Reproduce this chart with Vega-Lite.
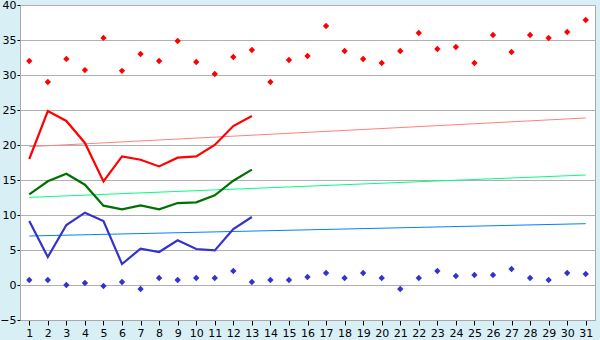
{
  "$schema": "https://vega.github.io/schema/vega-lite/v6.json",
  "width": 575,
  "height": 315,
  "autosize": {"type": "none"},
  "padding": {"left": 20, "top": 5, "right": 5, "bottom": 20},
  "background": "#d9eff6",
  "config": {
    "view": {"fill": "white", "stroke": "#a8a8a8", "strokeWidth": 1},
    "font": "DejaVu Sans",
    "axis": {"labelFont": "DejaVu Sans", "labelFontSize": 11, "labelColor": "#000000", "domainColor": "#a8a8a8", "tickColor": "#000000", "gridColor": "#b0b0b0", "title": null}
  },
  "datasets": {
    "maxpts": [
      {"day": 1, "v": 32.0}, {"day": 2, "v": 29.0}, {"day": 3, "v": 32.3}, {"day": 4, "v": 30.7},
      {"day": 5, "v": 35.3}, {"day": 6, "v": 30.6}, {"day": 7, "v": 33.0}, {"day": 8, "v": 32.0},
      {"day": 9, "v": 34.86}, {"day": 10, "v": 31.86}, {"day": 11, "v": 30.14}, {"day": 12, "v": 32.57},
      {"day": 13, "v": 33.57}, {"day": 14, "v": 29.0}, {"day": 15, "v": 32.14}, {"day": 16, "v": 32.71},
      {"day": 17, "v": 37.0}, {"day": 18, "v": 33.43}, {"day": 19, "v": 32.29}, {"day": 20, "v": 31.71},
      {"day": 21, "v": 33.43}, {"day": 22, "v": 36.0}, {"day": 23, "v": 33.71}, {"day": 24, "v": 34.0},
      {"day": 25, "v": 31.71}, {"day": 26, "v": 35.71}, {"day": 27, "v": 33.29}, {"day": 28, "v": 35.71},
      {"day": 29, "v": 35.29}, {"day": 30, "v": 36.14}, {"day": 31, "v": 37.86}
    ],
    "minpts": [
      {"day": 1, "v": 0.71}, {"day": 2, "v": 0.71}, {"day": 3, "v": 0.0}, {"day": 4, "v": 0.29},
      {"day": 5, "v": -0.14}, {"day": 6, "v": 0.43}, {"day": 7, "v": -0.57}, {"day": 8, "v": 1.0},
      {"day": 9, "v": 0.71}, {"day": 10, "v": 1.0}, {"day": 11, "v": 1.0}, {"day": 12, "v": 2.0},
      {"day": 13, "v": 0.43}, {"day": 14, "v": 0.71}, {"day": 15, "v": 0.71}, {"day": 16, "v": 1.14},
      {"day": 17, "v": 1.71}, {"day": 18, "v": 1.0}, {"day": 19, "v": 1.71}, {"day": 20, "v": 1.0},
      {"day": 21, "v": -0.57}, {"day": 22, "v": 1.0}, {"day": 23, "v": 2.0}, {"day": 24, "v": 1.29},
      {"day": 25, "v": 1.43}, {"day": 26, "v": 1.43}, {"day": 27, "v": 2.29}, {"day": 28, "v": 1.0},
      {"day": 29, "v": 0.71}, {"day": 30, "v": 1.71}, {"day": 31, "v": 1.57}
    ],
    "lines": [
      {"day": 1, "v": 18.0, "s": "max"}, {"day": 2, "v": 24.86, "s": "max"}, {"day": 3, "v": 23.43, "s": "max"},
      {"day": 4, "v": 20.29, "s": "max"}, {"day": 5, "v": 14.8, "s": "max"}, {"day": 6, "v": 18.37, "s": "max"},
      {"day": 7, "v": 17.9, "s": "max"}, {"day": 8, "v": 16.94, "s": "max"}, {"day": 9, "v": 18.19, "s": "max"},
      {"day": 10, "v": 18.37, "s": "max"}, {"day": 11, "v": 20.0, "s": "max"}, {"day": 12, "v": 22.71, "s": "max"},
      {"day": 13, "v": 24.14, "s": "max"},
      {"day": 1, "v": 12.95, "s": "mean"}, {"day": 2, "v": 14.81, "s": "mean"}, {"day": 3, "v": 15.9, "s": "mean"},
      {"day": 4, "v": 14.33, "s": "mean"}, {"day": 5, "v": 11.33, "s": "mean"}, {"day": 6, "v": 10.81, "s": "mean"},
      {"day": 7, "v": 11.38, "s": "mean"}, {"day": 8, "v": 10.81, "s": "mean"}, {"day": 9, "v": 11.71, "s": "mean"},
      {"day": 10, "v": 11.81, "s": "mean"}, {"day": 11, "v": 12.81, "s": "mean"}, {"day": 12, "v": 14.9, "s": "mean"},
      {"day": 13, "v": 16.48, "s": "mean"},
      {"day": 1, "v": 9.14, "s": "min"}, {"day": 2, "v": 4.0, "s": "min"}, {"day": 3, "v": 8.57, "s": "min"},
      {"day": 4, "v": 10.33, "s": "min"}, {"day": 5, "v": 9.14, "s": "min"}, {"day": 6, "v": 3.0, "s": "min"},
      {"day": 7, "v": 5.19, "s": "min"}, {"day": 8, "v": 4.71, "s": "min"}, {"day": 9, "v": 6.38, "s": "min"},
      {"day": 10, "v": 5.14, "s": "min"}, {"day": 11, "v": 4.95, "s": "min"}, {"day": 12, "v": 8.0, "s": "min"},
      {"day": 13, "v": 9.71, "s": "min"}
    ],
    "trends": [
      {"day": 1, "v": 19.76, "s": "tmax"}, {"day": 31, "v": 23.86, "s": "tmax"},
      {"day": 1, "v": 12.52, "s": "tmean"}, {"day": 31, "v": 15.71, "s": "tmean"},
      {"day": 1, "v": 7.0, "s": "tmin"}, {"day": 31, "v": 8.76, "s": "tmin"}
    ]
  },
  "encoding": {
    "x": {"field": "day", "type": "quantitative",
      "scale": {"domain": [0.5, 31.5], "nice": false, "zero": false},
      "axis": {"values": [1,2,3,4,5,6,7,8,9,10,11,12,13,14,15,16,17,18,19,20,21,22,23,24,25,26,27,28,29,30,31], "grid": false, "tickSize": 5, "labelPadding": 2, "format": "d", "domainColor": "#a8a8a8"}},
    "y": {"field": "v", "type": "quantitative",
      "scale": {"domain": [-5, 40], "nice": false, "zero": false},
      "axis": {"values": [-5,0,5,10,15,20,25,30,35,40], "grid": true, "tickSize": 3, "labelPadding": 1, "format": "d"}}
  },
  "layer": [
    {"data": {"name": "trends"}, "mark": {"type": "line", "strokeWidth": 1},
     "encoding": {"color": {"field": "s", "type": "nominal", "legend": null,
       "scale": {"domain": ["tmax", "tmean", "tmin"], "range": ["#ff8080", "#00ff80", "#0080ff"]}}}},
    {"data": {"name": "lines"}, "mark": {"type": "line", "strokeWidth": 2.2},
     "encoding": {"detail": {"field": "s"}, "stroke": {"field": "s", "type": "nominal", "legend": null,
       "scale": {"domain": ["max", "mean", "min"], "range": ["#ff0000", "#007000", "#3333cc"]}}}},
    {"data": {"name": "maxpts"}, "mark": {"type": "point", "shape": "diamond", "filled": true, "size": 40, "color": "#ff0000", "opacity": 1}},
    {"data": {"name": "minpts"}, "mark": {"type": "point", "shape": "diamond", "filled": true, "size": 40, "color": "#3333cc", "opacity": 1}}
  ]
}
